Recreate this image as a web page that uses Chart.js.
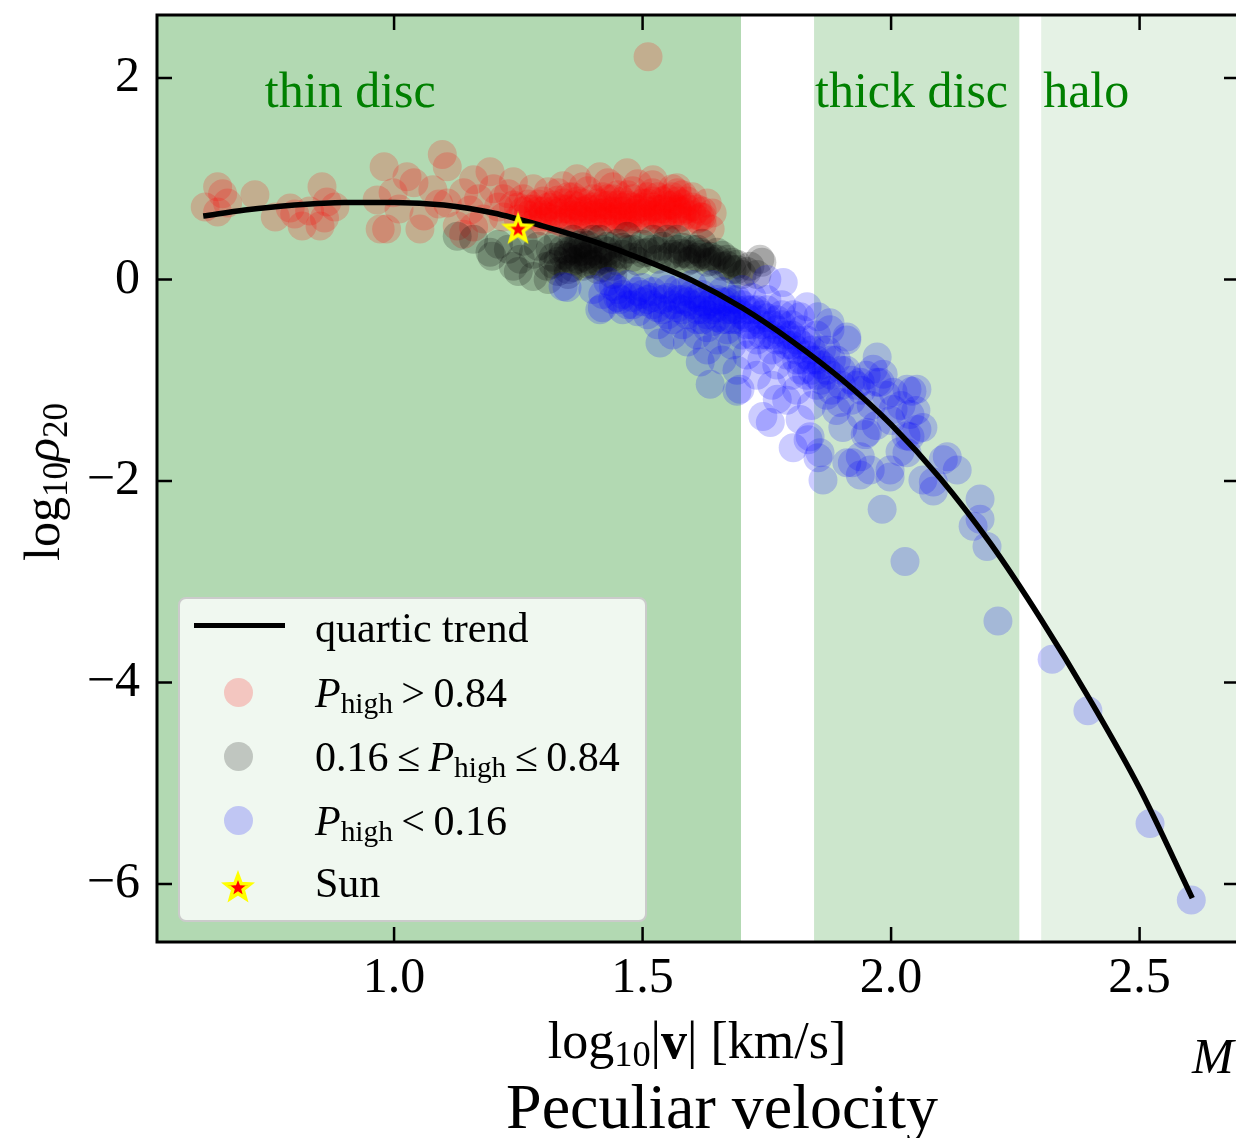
<!DOCTYPE html>
<html>
<head>
<meta charset="utf-8">
<script src="https://cdn.jsdelivr.net/npm/chart.js@4.4.0/dist/chart.umd.min.js"></script>
<style>
html,body{margin:0;padding:0;background:#fff;}
body{width:1236px;height:1138px;overflow:hidden;position:relative;font-family:'Liberation Serif','Times New Roman',serif;}
#wrap{position:absolute;left:0;top:0;width:1260px;height:1138px;}
.txt{position:absolute;white-space:nowrap;color:#000;line-height:1;}
.sub{font-size:0.7em;position:relative;top:0.22em;}
#legend{position:absolute;left:178px;top:597px;width:469px;height:325px;box-sizing:border-box;background:rgba(255,255,255,0.8);border:2.5px solid #cbcbcb;border-radius:8px;font-size:42px;}
.row{position:absolute;left:135px;height:60px;line-height:60px;white-space:nowrap;}
.hline{position:absolute;left:14px;width:91px;height:5px;background:#000;}
.dot{position:absolute;left:44px;width:29px;height:29px;border-radius:50%;}
</style>
</head>
<body>
<div id="wrap"><canvas id="c" width="1260" height="1138"></canvas></div>

<div id="legend">
  <div class="hline" style="top:24px"></div>
  <div class="row" style="top:-1px">quartic trend</div>
  <div class="dot" style="top:79px;background:rgba(255,0,0,0.2)"></div>
  <div class="row" style="top:64px"><i>P</i><span class="sub">high</span>&thinsp;&gt;&thinsp;0.84</div>
  <div class="dot" style="top:143px;background:rgba(0,0,0,0.2)"></div>
  <div class="row" style="top:128px">0.16&thinsp;≤&thinsp;<i>P</i><span class="sub">high</span>&thinsp;≤&thinsp;0.84</div>
  <div class="dot" style="top:207px;background:rgba(0,0,255,0.2)"></div>
  <div class="row" style="top:192px"><i>P</i><span class="sub">high</span>&thinsp;&lt;&thinsp;0.16</div>
  <div id="legStar" style="position:absolute;left:41px;top:267px;width:34px;height:34px"></div>
  <div class="row" style="top:254px">Sun</div>
</div>

<div class="txt" style="left:42px;top:482px;font-size:50px;transform:translate(-50%,-50%) rotate(-90deg)">log<span class="sub">10</span><i>ρ</i><span class="sub">20</span></div>
<div class="txt" style="left:697px;top:1041px;font-size:52px;transform:translate(-50%,-50%)">log<span class="sub">10</span>|<b>v</b>| [km/s]</div>
<div class="txt" style="left:722px;top:1107px;font-size:64px;transform:translate(-50%,-50%)">Peculiar velocity</div>
<div class="txt" style="left:1192px;top:1031px;font-size:50px;font-style:italic">M</div>

<script>
// axis ticks
const xTicks = [1.0, 1.5, 2.0, 2.5];
const yTicks = [-6, -4, -2, 0, 2];

// kinematic regions
const regionNames = ['thin disc', 'thick disc', 'halo'];
const regionStart = [0.4, 1.845, 2.302];
const regionEnd = [1.698, 2.258, 2.9];
const regionLabelX = [0.740, 1.847, 2.306];
const regionLabelY = 1.707;
const regionColors = ['rgba(0,128,0,0.3)', 'rgba(0,128,0,0.2)', 'rgba(0,128,0,0.1)'];

// quartic trend
const trendX = [0.616, 0.7, 0.8, 0.9, 1.0, 1.1, 1.2, 1.3, 1.4, 1.5, 1.6, 1.7, 1.8, 1.9, 2.0, 2.1, 2.2, 2.3, 2.4, 2.5, 2.606];
const trendY = [0.63, 0.69, 0.74, 0.765, 0.765, 0.74, 0.66, 0.53, 0.38, 0.20, -0.01, -0.28, -0.61, -0.99, -1.44, -1.98, -2.62, -3.36, -4.17, -5.05, -6.14];

// Sun
const sunPoint = [1.2495, 0.506];

// P_high > 0.84
const redPoints = [
[0.620,0.72],[0.645,0.92],[0.655,0.85],[0.645,0.67],[0.665,0.76],[0.720,0.84],[0.761,0.62],[0.791,0.71],[0.800,0.65],[0.815,0.53],[0.830,0.68],[0.851,0.53],[0.855,0.92],[0.865,0.77],[0.881,0.72],[0.860,0.61],
[0.980,1.12],[0.966,0.79],[0.972,0.50],[0.985,0.50],[0.998,0.86],[1.010,0.70],[1.026,1.02],[1.040,0.96],[1.052,0.50],[1.060,0.63],[1.078,0.89],[1.090,0.75],[1.097,1.24],[1.107,1.12],[1.107,0.76],[1.127,0.53],[1.140,0.86],[1.153,0.69],[1.160,0.99],[1.170,0.80],[1.180,0.60],[1.193,1.07],[1.200,0.90],[1.210,0.72],[1.140,0.45],[1.160,0.52],
[1.22,0.62],[1.23,0.85],[1.24,0.97],[1.25,0.72],[1.26,0.80],[1.27,0.64],[1.28,0.90],[1.29,0.75],[1.30,0.68],[1.31,0.87],[1.32,0.60],[1.33,0.79],[1.34,0.93],[1.35,0.70],[1.36,0.82],[1.368,1.0],[1.37,0.63],[1.38,0.76],[1.39,0.88],[1.40,0.55],[1.41,0.70],[1.414,1.02],[1.42,0.82],[1.43,0.62],[1.44,0.92],[1.45,0.74],[1.46,0.55],[1.469,1.06],[1.47,0.84],[1.48,0.66],[1.49,0.95],[1.50,0.76],[1.51,0.58],[1.52,0.86],[1.521,0.99],[1.53,0.70],[1.54,0.62],[1.55,0.80],[1.56,0.90],[1.569,0.91],[1.57,0.68],[1.58,0.75],[1.59,0.58],[1.60,0.82],[1.61,0.70],[1.616,0.62],[1.636,0.50],[1.63,0.76],[1.62,0.55],
[1.26,0.68],[1.29,0.62],[1.31,0.72],[1.33,0.66],[1.35,0.60],[1.36,0.74],[1.38,0.68],[1.40,0.80],[1.42,0.66],[1.44,0.60],[1.46,0.78],[1.48,0.72],[1.50,0.66],[1.52,0.72],[1.54,0.78],[1.56,0.64],[1.58,0.68],[1.46,0.68],[1.34,0.56],[1.30,0.78],[1.24,0.74],[1.22,0.80],[1.28,0.55],[1.39,0.58],[1.43,0.74],[1.47,0.62],[1.53,0.82],[1.57,0.78],[1.60,0.64],[1.55,0.56],
[1.25,0.60],[1.27,0.75],[1.29,0.68],[1.31,0.62],[1.32,0.74],[1.33,0.58],[1.34,0.70],[1.35,0.82],[1.36,0.64],[1.37,0.72],[1.38,0.60],[1.39,0.70],[1.40,0.64],[1.41,0.76],[1.42,0.58],[1.43,0.68],[1.44,0.80],[1.45,0.64],[1.46,0.72],[1.47,0.56],[1.48,0.80],[1.49,0.62],[1.50,0.72],[1.51,0.82],[1.52,0.64],[1.53,0.60],[1.54,0.70],[1.55,0.68],[1.56,0.74],[1.57,0.60],[1.58,0.84],[1.59,0.70],[1.61,0.60],[1.62,0.68],[1.30,0.58],[1.28,0.70],[1.36,0.56],[1.41,0.62],[1.45,0.84],[1.51,0.68],
[1.27,0.70],[1.30,0.64],[1.32,0.68],[1.34,0.76],[1.36,0.68],[1.37,0.78],[1.38,0.64],[1.40,0.72],[1.41,0.66],[1.42,0.74],[1.43,0.80],[1.44,0.68],[1.45,0.58],[1.46,0.62],[1.47,0.74],[1.48,0.60],[1.49,0.70],[1.50,0.60],[1.51,0.76],[1.52,0.78],[1.53,0.66],[1.54,0.56],[1.55,0.74],[1.56,0.82],[1.57,0.70],[1.58,0.62],[1.59,0.78],[1.60,0.72],[1.62,0.62],[1.64,0.66],[1.33,0.86],[1.38,0.92],[1.43,0.96],[1.48,0.88],[1.52,0.94],[1.57,0.86],
[1.511,2.21]
];

// 0.16 <= P_high <= 0.84
const blackPoints = [
[1.127,0.43],[1.160,0.40],[1.193,0.27],[1.197,0.23],[1.210,0.35],[1.230,0.30],[1.240,0.13],[1.250,0.08],[1.254,0.20],[1.260,0.38],[1.280,0.25],[1.280,0.03],[1.290,0.33],[1.308,0.13],[1.310,0.00],[1.314,0.30],[1.320,0.15],[1.330,0.38],[1.340,0.24],[1.350,0.10],[1.350,0.05],[1.360,0.30],[1.368,0.30],[1.370,0.20],[1.380,0.13],[1.380,0.36],[1.390,0.25],[1.400,0.40],[1.410,0.18],[1.414,0.40],[1.420,0.30],[1.430,0.22],[1.440,0.13],[1.440,0.05],[1.450,0.36],[1.460,0.25],[1.469,0.43],[1.480,0.30],[1.490,0.18],[1.500,0.35],[1.510,0.27],[1.521,0.40],[1.530,0.20],[1.540,0.33],[1.550,0.40],[1.560,0.25],[1.569,0.40],[1.570,0.23],[1.580,0.32],[1.590,0.18],[1.600,0.30],[1.610,0.22],[1.616,0.27],[1.620,0.36],[1.630,0.17],[1.636,0.23],[1.650,0.27],[1.660,0.13],[1.670,0.20],[1.680,0.10],[1.690,0.15],[1.700,0.05],[1.716,0.13],[1.730,0.05],[1.736,0.20],[1.740,0.17],
[1.32,0.22],[1.34,0.30],[1.36,0.18],[1.37,0.27],[1.38,0.22],[1.39,0.15],[1.40,0.28],[1.42,0.20],[1.43,0.33],[1.45,0.18],[1.47,0.30],[1.52,0.30],[1.55,0.22],[1.58,0.26],[1.60,0.20],[1.62,0.25],[1.64,0.18],[1.66,0.24],[1.68,0.17],[1.35,0.28],[1.33,0.08],[1.41,0.10],
[1.33,0.18],[1.35,0.22],[1.36,0.12],[1.37,0.34],[1.38,0.28],[1.39,0.20],[1.40,0.15],[1.41,0.25],[1.42,0.12],[1.43,0.28],[1.44,0.22],[1.46,0.32],[1.48,0.22],[1.50,0.26],[1.53,0.28],[1.57,0.30],[1.59,0.25],[1.61,0.30],[1.63,0.22],[1.65,0.20],[1.67,0.14],[1.69,0.10],[1.71,0.08],[1.36,0.40],[1.39,0.34]
];

// P_high < 0.16
const bluePoints = [
[1.340,-0.07],[1.348,-0.08],[1.414,-0.30],[1.419,-0.28],[1.441,-0.07],[1.455,-0.20],
[1.40,-0.10],[1.42,-0.15],[1.43,-0.02],[1.44,-0.20],[1.45,-0.10],[1.46,-0.30],[1.47,-0.05],[1.48,-0.18],[1.49,-0.32],[1.50,-0.08],[1.50,-0.22],
[1.51,-0.35],[1.52,-0.12],[1.52,-0.25],[1.53,-0.45],[1.54,-0.05],[1.54,-0.30],[1.55,-0.18],[1.56,-0.40],[1.56,-0.55],[1.57,-0.10],[1.57,-0.28],[1.58,-0.20],[1.58,-0.45],[1.59,-0.35],[1.59,-0.62],[1.60,-0.05],[1.60,-0.25],
[1.61,-0.40],[1.61,-0.55],[1.62,-0.15],[1.62,-0.30],[1.63,-0.48],[1.63,-0.70],[1.64,-0.05],[1.64,-0.22],[1.65,-0.38],[1.65,-0.60],[1.66,-0.12],[1.66,-0.80],[1.67,-0.30],[1.67,-0.50],[1.68,-0.20],[1.68,-0.65],[1.69,-0.40],[1.69,-0.90],[1.70,-0.10],[1.70,-0.55],
[1.71,-0.30],[1.71,-0.75],[1.72,-0.45],[1.72,-0.18],[1.73,-0.60],[1.73,-0.95],[1.74,-0.35],[1.74,-0.80],[1.75,-0.20],[1.75,-0.55],[1.76,-0.70],[1.76,-1.05],[1.77,-0.40],[1.77,-0.85],[1.78,-0.25],[1.78,-0.60],[1.79,-0.75],[1.79,-1.20],[1.80,-0.45],[1.80,-0.95],
[1.81,-0.60],[1.81,-1.10],[1.82,-0.80],[1.82,-0.50],[1.83,-0.95],[1.84,-0.70],[1.84,-1.25],[1.85,-0.55],[1.85,-1.05],[1.86,-0.85],[1.87,-0.70],[1.87,-1.15],[1.88,-0.95],[1.89,-0.80],[1.89,-1.30],[1.90,-1.05],
[1.91,-0.90],[1.92,-1.20],[1.93,-1.05],[1.94,-1.35],[1.95,-0.95],[1.96,-1.25],[1.97,-1.45],[1.99,-1.15],[2.00,-1.40],[2.02,-1.25],[2.03,-1.55],[2.05,-1.30],
[1.46,-0.15],[1.48,-0.25],[1.50,-0.15],[1.52,-0.18],[1.54,-0.20],[1.55,-0.35],[1.57,-0.20],[1.58,-0.30],[1.60,-0.15],[1.61,-0.30],[1.62,-0.22],[1.63,-0.35],[1.64,-0.30],[1.65,-0.20],[1.66,-0.40],[1.67,-0.22],[1.68,-0.40],[1.69,-0.30],[1.70,-0.35],[1.71,-0.45],[1.72,-0.30],[1.73,-0.40],[1.74,-0.55],[1.75,-0.38],[1.76,-0.45],[1.77,-0.60],[1.78,-0.45],[1.79,-0.55],[1.80,-0.65],[1.81,-0.80],[1.82,-0.65],[1.83,-0.75],[1.84,-0.90],[1.85,-0.80],[1.86,-1.00],[1.88,-1.10],
[1.45,-0.18],[1.47,-0.25],[1.49,-0.12],[1.51,-0.20],[1.53,-0.28],[1.55,-0.10],[1.56,-0.25],[1.58,-0.12],[1.59,-0.22],[1.61,-0.18],[1.62,-0.40],[1.63,-0.25],[1.64,-0.42],[1.65,-0.28],[1.66,-0.22],[1.67,-0.40],[1.68,-0.30],[1.69,-0.20],[1.70,-0.25],[1.71,-0.38],[1.72,-0.55],[1.73,-0.30],[1.74,-0.45],[1.75,-0.30],[1.76,-0.55],[1.77,-0.50],[1.78,-0.35],[1.79,-0.65],[1.80,-0.55],[1.81,-0.70],[1.82,-0.90],[1.83,-0.60],[1.84,-0.80],[1.85,-0.95],[1.86,-0.70],[1.87,-0.90],[1.88,-0.80],[1.90,-0.90],[1.92,-1.00],[1.94,-1.10],
[1.535,-0.63],[1.636,-1.04],[1.696,-1.09],[1.616,-0.82],[1.690,-1.11],[1.742,-1.36],[1.757,-1.42],[1.771,-1.19],[1.803,-1.67],[1.817,-1.39],[1.833,-1.59],[1.837,-1.56],[1.853,-1.77],[1.857,-1.72],[1.863,-1.99],[1.903,-1.47],[1.911,-1.82],[1.922,-1.82],[1.938,-1.76],[1.938,-1.94],[1.948,-1.54],[1.952,-1.52],[1.958,-1.89],[1.982,-2.28],[1.998,-1.89],[1.998,-1.96],[2.004,-1.29],[2.018,-1.71],[2.028,-2.80],[2.032,-1.72],[2.038,-1.56],[2.052,-1.49],[2.064,-1.99],[2.085,-2.01],[2.085,-2.10],[2.105,-1.79],[2.113,-1.76],[2.133,-1.89],[2.165,-2.45],[2.179,-2.18],[2.179,-2.38],[2.193,-2.65],
[1.750,0.0],[1.783,-0.03],[1.803,-0.35],[1.817,-0.37],[1.831,-0.27],[1.853,-0.37],[1.877,-0.43],[1.877,-0.50],[1.911,-0.57],[1.911,-0.60],[1.964,-0.89],[1.972,-0.77],[1.972,-1.02],[1.978,-1.02],[1.984,-0.94],[2.004,-1.12],[2.032,-1.09],[2.042,-1.11],[2.052,-1.09],[2.038,-1.34],[2.064,-1.47],[1.897,-1.22],[1.938,-1.02],
[2.215,-3.39],[2.324,-3.77],[2.396,-4.28],[2.521,-5.40],[2.604,-6.16]
];

const serif = "'Liberation Serif', 'Times New Roman', serif";

function makeStar(size) {
  const c = document.createElement('canvas');
  c.width = c.height = size;
  const g = c.getContext('2d');
  const cx = size / 2, cy = size / 2 + 1, R = size * 0.38, r = R * 0.42;
  g.beginPath();
  for (let i = 0; i < 10; i++) {
    const a = -Math.PI / 2 + i * Math.PI / 5;
    const rr = i % 2 ? r : R;
    g.lineTo(cx + rr * Math.cos(a), cy + rr * Math.sin(a));
  }
  g.closePath();
  g.fillStyle = 'red';
  g.fill();
  g.lineWidth = 3.5;
  g.strokeStyle = 'yellow';
  g.stroke();
  return c;
}
document.getElementById('legStar').appendChild(makeStar(34));

function pts(list) { return list.map(p => ({x: p[0], y: p[1]})); }

const regionPlugin = {
  id: 'regions',
  beforeDatasetsDraw(chart) {
    const {ctx, chartArea: a, scales: {x, y}} = chart;
    ctx.save();
    ctx.beginPath();
    ctx.rect(a.left, a.top, a.right - a.left, a.bottom - a.top);
    ctx.clip();
    for (let i = 0; i < regionNames.length; i++) {
      const x0 = x.getPixelForValue(regionStart[i]);
      const x1 = x.getPixelForValue(regionEnd[i]);
      ctx.fillStyle = regionColors[i];
      ctx.fillRect(x0, a.top, x1 - x0, a.bottom - a.top);
    }
    ctx.font = '50px ' + serif;
    ctx.fillStyle = '#008000';
    ctx.textBaseline = 'alphabetic';
    ctx.textAlign = 'left';
    for (let i = 0; i < regionNames.length; i++) {
      ctx.fillText(regionNames[i], x.getPixelForValue(regionLabelX[i]), y.getPixelForValue(regionLabelY));
    }
    ctx.restore();
  }
};

const framePlugin = {
  id: 'frame',
  afterDraw(chart) {
    const {ctx, chartArea: a, scales: {x, y}} = chart;
    ctx.save();
    ctx.strokeStyle = '#000';
    ctx.lineWidth = 3;
    ctx.strokeRect(a.left, a.top, a.right - a.left, a.bottom - a.top);
    ctx.lineWidth = 2.5;
    ctx.beginPath();
    xTicks.forEach(v => {
      const p = x.getPixelForValue(v);
      ctx.moveTo(p, a.bottom); ctx.lineTo(p, a.bottom - 15);
      ctx.moveTo(p, a.top); ctx.lineTo(p, a.top + 15);
    });
    yTicks.forEach(v => {
      const p = y.getPixelForValue(v);
      ctx.moveTo(a.left, p); ctx.lineTo(a.left + 15, p);
      ctx.moveTo(a.right, p); ctx.lineTo(a.right - 15, p);
    });
    ctx.stroke();
    ctx.restore();
  }
};

const dotStyle = {pointRadius: 14.5, pointBorderWidth: 0, pointHoverRadius: 14.5, showLine: false};

function noPad(s) {
  s.paddingTop = 0; s.paddingBottom = 0; s.paddingLeft = 0; s.paddingRight = 0;
}

new Chart(document.getElementById('c'), {
  type: 'scatter',
  data: {
    datasets: [
      {label: 'Sun', data: [{x: sunPoint[0], y: sunPoint[1]}], pointStyle: makeStar(34), pointRadius: 17, order: 0},
      {label: 'quartic trend', data: trendX.map((v, i) => ({x: v, y: trendY[i]})), showLine: true, borderColor: '#000', borderWidth: 5.5, pointRadius: 0, cubicInterpolationMode: 'monotone', order: 1},
      Object.assign({label: 'P_high < 0.16', data: pts(bluePoints), backgroundColor: 'rgba(0,0,255,0.2)', order: 2}, dotStyle),
      Object.assign({label: '0.16 <= P_high <= 0.84', data: pts(blackPoints), backgroundColor: 'rgba(0,0,0,0.2)', order: 3}, dotStyle),
      Object.assign({label: 'P_high > 0.84', data: pts(redPoints), backgroundColor: 'rgba(255,0,0,0.2)', order: 4}, dotStyle)
    ]
  },
  options: {
    responsive: false,
    devicePixelRatio: 1,
    animation: false,
    events: [],
    layout: {autoPadding: false, padding: {top: 15, right: 21, left: 0, bottom: 0}},
    plugins: {legend: {display: false}, tooltip: {enabled: false}},
    scales: {
      x: {
        type: 'linear', min: 0.523, max: 2.700,
        afterBuildTicks: s => { s.ticks = xTicks.map(v => ({value: v})); },
        afterFit: s => { s.height = 196; noPad(s); },
        grid: {display: false, drawTicks: false},
        border: {display: false},
        ticks: {color: '#000', padding: 7, font: {family: serif, size: 50}, callback: v => v.toFixed(1)}
      },
      y: {
        type: 'linear', min: -6.576, max: 2.625,
        afterBuildTicks: s => { s.ticks = yTicks.map(v => ({value: v})); },
        afterFit: s => { s.width = 157; noPad(s); },
        grid: {display: false, drawTicks: false},
        border: {display: false},
        ticks: {color: '#000', padding: 17, font: {family: serif, size: 50}, callback: v => String(v).replace('-', '\u2212')}
      }
    }
  },
  plugins: [regionPlugin, framePlugin]
});
</script>
</body>
</html>
